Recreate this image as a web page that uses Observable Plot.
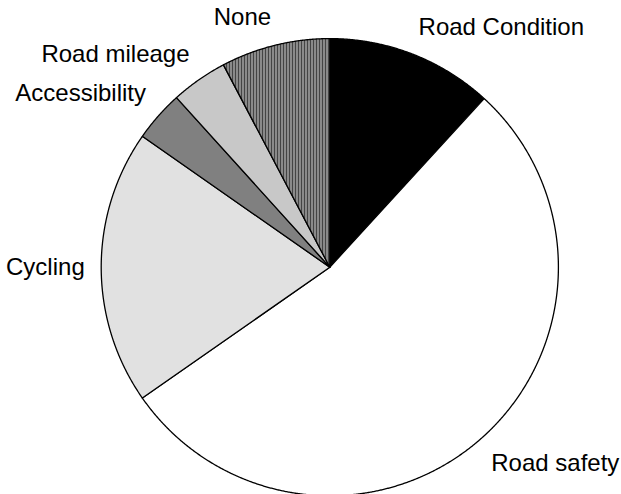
<!DOCTYPE html>
<html>
<head>
<meta charset="utf-8">
<script src="https://cdn.jsdelivr.net/npm/d3@7"></script>
<script src="https://cdn.jsdelivr.net/npm/@observablehq/plot@0.6"></script>
<style>
  body { margin: 0; background: #fff; }
  svg { overflow: visible; }
</style>
</head>
<body>
<div id="chart"></div>
<script>
// Slices, clockwise from 12 o'clock
const categories = ["Road Condition", "Road safety", "Cycling", "Accessibility", "Road mileage", "None"];
const shares = [11.8, 53.5, 19.4, 3.6, 4.0, 7.7];

// Fill for each slice (solid colours or SVG patterns defined below)
const sliceFill = {
  "Road Condition": "#000000",
  "Road safety": "#ffffff",
  "Cycling": "url(#pat-dots-light)",
  "Accessibility": "#808080",
  "Road mileage": "url(#pat-dots-dark)",
  "None": "url(#pat-vstripes)"
};

const arcs = d3.pie().sort(null)(shares);

// Wedge outlines in unit-circle coordinates (y up)
const outline = arcs.flatMap((a, i) => {
  const n = Math.max(2, Math.ceil((a.endAngle - a.startAngle) / 0.004));
  const pts = [{name: categories[i], x: 0, y: 0}];
  for (let k = 0; k <= n; k++) {
    const t = a.startAngle + (a.endAngle - a.startAngle) * k / n;
    pts.push({name: categories[i], x: Math.sin(t), y: Math.cos(t)});
  }
  return pts;
});

// Labels just outside the rim, pushed away vertically by half a line
const labelRadius = 1.072;
const labelLift = 0.052;
const labels = arcs.map((a, i) => {
  const m = (a.startAngle + a.endAngle) / 2;
  const c = Math.cos(m);
  const lift = Math.abs(c) < 0.05 ? 0 : Math.sign(c) * labelLift;
  return {
    name: categories[i],
    x: labelRadius * Math.sin(m),
    y: labelRadius * c + lift,
    right: Math.sin(m) >= 0
  };
});

const textStyle = {
  x: "x", y: "y", text: "name",
  fontSize: 24,
  fontFamily: "'Liberation Sans', Arial, Helvetica, sans-serif",
  fill: "#000"
};

const chart = Plot.plot({
  width: 621,
  height: 494,
  margin: 0,
  style: {background: "#fff", overflow: "visible"},
  x: {domain: [-1, 1], range: [100.7, 557.9], axis: null},
  y: {domain: [-1, 1], range: [495.3, 38.1], axis: null},
  color: {type: "identity"},
  marks: [
    Plot.line(outline, {
      x: "x", y: "y", z: "name",
      fill: d => sliceFill[d.name],
      stroke: "#000",
      strokeWidth: 1.3,
      strokeLinejoin: "round",
      curve: "linear-closed"
    }),
    Plot.text(labels.filter(d => d.right), {...textStyle, textAnchor: "start"}),
    Plot.text(labels.filter(d => !d.right), {...textStyle, textAnchor: "end"})
  ]
});

// Fill patterns for the textured slices
const defs = d3.select(chart).insert("defs", ":first-child");

const dotsLight = defs.append("pattern")
  .attr("id", "pat-dots-light").attr("patternUnits", "userSpaceOnUse")
  .attr("width", 2).attr("height", 2);
dotsLight.append("rect").attr("width", 2).attr("height", 2).attr("fill", "#f4f4f4");
dotsLight.append("rect").attr("x", 0).attr("y", 0).attr("width", 1).attr("height", 1).attr("fill", "#c8c8c8");
dotsLight.append("rect").attr("x", 1).attr("y", 1).attr("width", 1).attr("height", 1).attr("fill", "#d4d4d4");

const dotsDark = defs.append("pattern")
  .attr("id", "pat-dots-dark").attr("patternUnits", "userSpaceOnUse")
  .attr("width", 2).attr("height", 2);
dotsDark.append("rect").attr("width", 2).attr("height", 2).attr("fill", "#ececec");
dotsDark.append("rect").attr("x", 0).attr("y", 0).attr("width", 1).attr("height", 1).attr("fill", "#a0a0a0");
dotsDark.append("rect").attr("x", 1).attr("y", 1).attr("width", 1).attr("height", 1).attr("fill", "#a8a8a8");

const stripes = defs.append("pattern")
  .attr("id", "pat-vstripes").attr("patternUnits", "userSpaceOnUse")
  .attr("width", 3).attr("height", 3);
stripes.append("rect").attr("width", 3).attr("height", 3).attr("fill", "#cfcfcf");
stripes.append("rect").attr("x", 0).attr("width", 2).attr("height", 3).attr("fill", "#444");

document.getElementById("chart").append(chart);
</script>
</body>
</html>
